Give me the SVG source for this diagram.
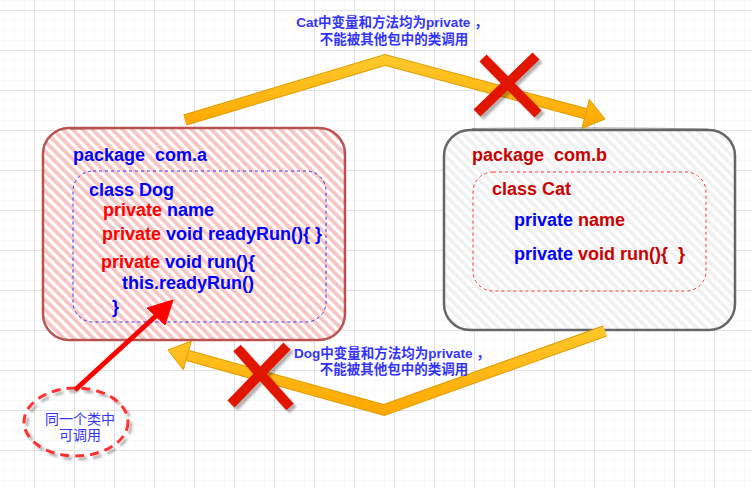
<svg xmlns="http://www.w3.org/2000/svg" width="752" height="488" viewBox="0 0 752 488">
  <defs>
    <pattern id="gridMinor" patternUnits="userSpaceOnUse" x="4" y="0" width="10" height="10">
      <path d="M0 0V10M0 0H10" fill="none" stroke="#f3f3f3" stroke-width="1"/>
    </pattern>
    <pattern id="gridMajor" patternUnits="userSpaceOnUse" x="34" y="10" width="40" height="40">
      <path d="M0.5 0V40M0 0.5H40" fill="none" stroke="#e2e2e2" stroke-width="1"/>
    </pattern>
    <pattern id="hatchRed" patternUnits="userSpaceOnUse" width="7" height="7" patternTransform="rotate(-45)">
      <rect width="7" height="7" fill="#ffffff"/>
      <rect width="3.8" height="7" fill="#f6c6c4"/>
    </pattern>
    <pattern id="hatchGray" patternUnits="userSpaceOnUse" width="7" height="7" patternTransform="rotate(-45)">
      <rect width="7" height="7" fill="#ffffff" fill-opacity="0.8"/>
      <rect width="3.6" height="7" fill="#efefef" fill-opacity="0.9"/>
    </pattern>
    <linearGradient id="goldTop" gradientUnits="userSpaceOnUse" x1="0" y1="55" x2="0" y2="130">
      <stop offset="0" stop-color="#ffca2c"/>
      <stop offset="1" stop-color="#ffa600"/>
    </linearGradient>
    <linearGradient id="goldBot" gradientUnits="userSpaceOnUse" x1="0" y1="325" x2="0" y2="418">
      <stop offset="0" stop-color="#ffca2c"/>
      <stop offset="1" stop-color="#ffa600"/>
    </linearGradient>
    <filter id="shadow" x="-30%" y="-30%" width="160%" height="160%">
      <feGaussianBlur in="SourceAlpha" stdDeviation="1"/>
      <feOffset dx="3" dy="3" result="o"/>
      <feFlood flood-color="#000000" flood-opacity="0.3"/>
      <feComposite in2="o" operator="in"/>
      <feMerge><feMergeNode/><feMergeNode in="SourceGraphic"/></feMerge>
    </filter>
    <style>
      .t { font-family: "Liberation Sans", Arial, "Noto Sans CJK SC", sans-serif; font-weight: bold; font-size: 18px; white-space: pre; }
      .blue { fill: #0000ff; }
      .red { fill: #ff0000; }
      .dred { fill: #cc0000; }
      .lbl { font-family: "Liberation Sans", Arial, "Noto Sans CJK SC", sans-serif; font-weight: bold; font-size: 13.5px; fill: #3333ff; text-anchor: middle; white-space: pre; }
      .note { font-family: "Liberation Sans", Arial, "Noto Sans CJK SC", sans-serif; font-size: 14px; fill: #3333ff; text-anchor: middle; }
      .shaftOut { fill: none; stroke: #dd9c00; stroke-width: 11.5; stroke-linejoin: miter; }
      .cross { stroke: #e01500; stroke-width: 10; stroke-linecap: butt; }
    </style>
  </defs>

  <rect width="752" height="488" fill="#ffffff"/>
  <rect width="752" height="488" fill="url(#gridMinor)"/>
  <rect width="752" height="488" fill="url(#gridMajor)"/>

  <g id="node-pkg-a">
    <rect x="43" y="128" width="302" height="212" rx="26" fill="url(#hatchRed)" stroke="#b85450" stroke-width="2.5"/>
    <path d="M70 129.5 Q190 126 318 128.5" fill="none" stroke="#b85450" stroke-width="1" opacity="0.6"/>
    <rect x="73" y="171" width="253" height="151" rx="20" fill="none" stroke="#3333ff" stroke-width="1" stroke-dasharray="3 3"/>
    <text class="t blue" x="73" y="161">package  com.a</text>
    <text class="t blue" x="89" y="196">class Dog</text>
    <text class="t" x="103" y="216"><tspan class="red">private</tspan><tspan class="blue"> name</tspan></text>
    <text class="t" x="102" y="240"><tspan class="red">private</tspan><tspan class="blue"> void readyRun(){ }</tspan></text>
    <text class="t" x="101" y="268"><tspan class="red">private</tspan><tspan class="blue"> void run(){</tspan></text>
    <text class="t blue" x="122" y="289">this.readyRun()</text>
    <text class="t blue" x="112" y="313">}</text>
  </g>

  <g id="node-pkg-b">
    <rect x="444" y="130" width="291" height="200" rx="26" fill="url(#hatchGray)" stroke="#666666" stroke-width="2.5"/>
    <path d="M472 128.5 Q600 127 708 129" fill="none" stroke="#666666" stroke-width="1" opacity="0.6"/>
    <rect x="473" y="172" width="233" height="119" rx="20" fill="none" stroke="#ff3333" stroke-width="1" stroke-dasharray="3 3"/>
    <text class="t dred" x="472" y="161">package  com.b</text>
    <text class="t dred" x="492" y="195">class Cat</text>
    <text class="t" x="514" y="226"><tspan class="blue">private</tspan><tspan class="dred"> name</tspan></text>
    <text class="t" x="514" y="260"><tspan class="blue">private</tspan><tspan class="dred"> void run(){  }</tspan></text>
  </g>

  <g id="node-note">
    <ellipse cx="76" cy="422" rx="52" ry="34" fill="none" stroke="#ff3333" stroke-width="3" stroke-dasharray="9 6" filter="url(#shadow)"/>
    <text class="note" x="80" y="424">同一个类中</text>
    <text class="note" x="80" y="440">可调用</text>
  </g>

  <g id="connectors">
    <g id="edge-cat-to-a">
      <path class="shaftOut" d="M185 120 L385 60 L587 114"/>
      <path d="M185 120 L385 60 L587 114" fill="none" stroke="url(#goldTop)" stroke-width="9.5" stroke-linejoin="miter"/>
      <polygon points="605,119 581.8,128.5 589.4,99.5" fill="url(#goldTop)" stroke="#dd9c00" stroke-width="1"/>
    </g>
    <g id="edge-dog-to-b">
      <path class="shaftOut" d="M605 331 L384 410 L186 355"/>
      <path d="M605 331 L384 410 L186 355" fill="none" stroke="url(#goldBot)" stroke-width="9.5" stroke-linejoin="miter"/>
      <polygon points="168,350 191.3,341 183.3,369.8" fill="url(#goldBot)" stroke="#dd9c00" stroke-width="1"/>
    </g>
    <g id="edge-note-to-run">
      <line x1="75" y1="390" x2="158" y2="314" stroke="#ff0000" stroke-width="5"/>
      <polygon points="173,300 147,308 165,325" fill="#ff0000" stroke="#ff0000" stroke-width="1"/>
    </g>
  </g>

  <g id="label-top">
    <text class="lbl" x="392" y="27">Cat中变量和方法均为private ，</text>
    <text class="lbl" x="394" y="44">不能被其他包中的类调用</text>
  </g>
  <g id="label-bottom">
    <text class="lbl" x="392" y="358">Dog中变量和方法均为private ，</text>
    <text class="lbl" x="394" y="374">不能被其他包中的类调用</text>
  </g>

  <g id="cross-top" filter="url(#shadow)">
    <line class="cross" x1="483" y1="58" x2="538" y2="114"/>
    <line class="cross" x1="536" y1="56" x2="477" y2="113"/>
  </g>
  <g id="cross-bottom" filter="url(#shadow)">
    <line class="cross" x1="237" y1="348" x2="290" y2="407"/>
    <line class="cross" x1="287" y1="346" x2="231" y2="404"/>
  </g>
</svg>
